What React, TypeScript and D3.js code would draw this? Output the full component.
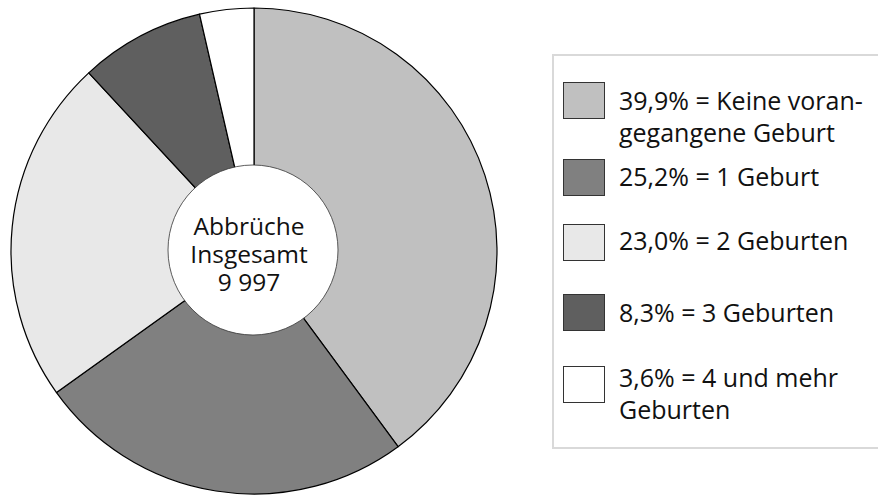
import React from "react";
import * as d3 from "d3";

const categories = [
  "Keine vorangegangene Geburt",
  "1 Geburt",
  "2 Geburten",
  "3 Geburten",
  "4 und mehr Geburten",
];
const values = [39.9, 25.2, 23.0, 8.3, 3.6];
const colors = ["#c0c0c0", "#808080", "#e8e8e8", "#5f5f5f", "#ffffff"];
const legendLines = [
  ["39,9% = Keine voran-", "gegangene Geburt"],
  ["25,2% = 1 Geburt"],
  ["23,0% = 2 Geburten"],
  ["8,3% = 3 Geburten"],
  ["3,6% = 4 und mehr", "Geburten"],
];
const centerLines = ["Abbrüche", "Insgesamt", "9 997"];

const W = 878;
const H = 500;
const cx = 254;
const cy = 251;
const R = 243;
const innerR = 85;
const FONT = "'Open Sans', 'Noto Sans', sans-serif";

const legendSwatchTop = [82, 159, 224, 294, 366];
const legendBaseline = [110, 186, 250, 322, 387];

export default function App() {
  const pie = d3
    .pie<number>()
    .sort(null)
    .value((d) => d)
    .startAngle(0)
    .endAngle(2 * Math.PI);
  const arcs = pie(values);
  const arc = d3.arc<d3.PieArcDatum<number>>().innerRadius(0).outerRadius(R);

  return (
    <svg
      width={W}
      height={H}
      style={{ position: "absolute", left: 0, top: 0, background: "#fff" }}
    >
      <g transform={`translate(${cx},${cy})`}>
        {arcs.map((a, i) => (
          <path
            key={categories[i]}
            d={arc(a) || ""}
            fill={colors[i]}
            stroke="#000"
            strokeWidth={1.2}
            strokeLinejoin="round"
          />
        ))}
        <circle
          cx={-1}
          cy={-1}
          r={innerR}
          fill="#fff"
          stroke="#333"
          strokeWidth={0.8}
        />
        <text
          fontFamily={FONT}
          fontSize={24.5}
          fill="#111"
          textAnchor="middle"
        >
          {centerLines.map((t, i) => (
            <tspan key={t} x={-5} y={-16 + i * 28}>
              {t}
            </tspan>
          ))}
        </text>
      </g>
      <rect
        x={553}
        y={55}
        width={340}
        height={393}
        fill="#fff"
        stroke="#d9d9d9"
        strokeWidth={2}
      />
      {values.map((v, i) => (
        <g key={categories[i]}>
          <rect
            x={563.5}
            y={legendSwatchTop[i] + 0.5}
            width={41}
            height={36}
            fill={colors[i]}
            stroke="#333"
            strokeWidth={1}
          />
          <text fontFamily={FONT} fontSize={25} fill="#111">
            {legendLines[i].map((t, j) => (
              <tspan key={t} x={619} y={legendBaseline[i] + j * 32}>
                {t}
              </tspan>
            ))}
          </text>
        </g>
      ))}
    </svg>
  );
}
